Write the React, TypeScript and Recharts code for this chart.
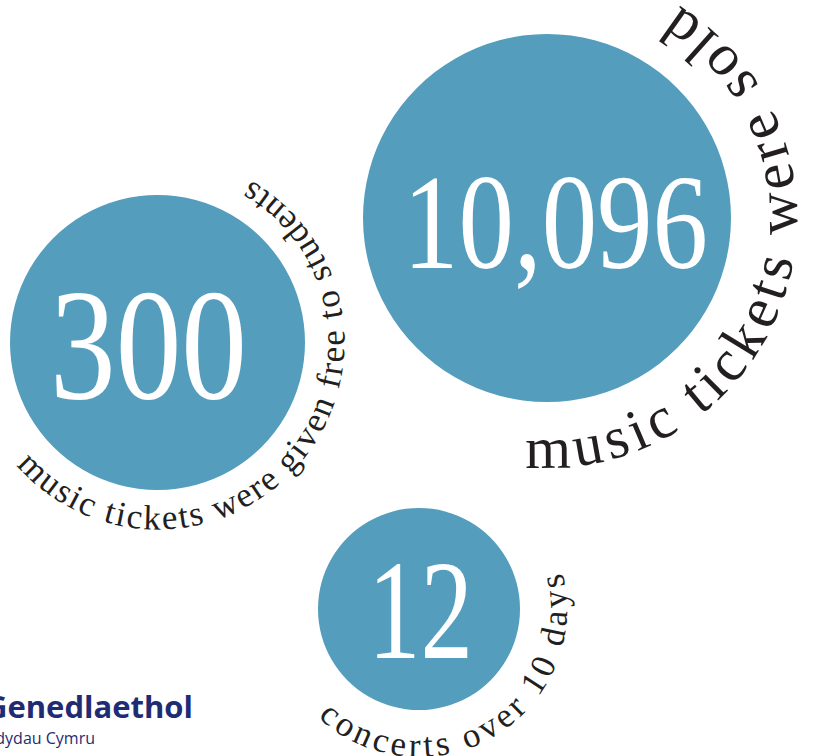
import React from 'react';
import { PieChart, Pie, Cell } from 'recharts';

// ---- data ----
const circleNames = ['free tickets', 'tickets sold', 'concerts'];
const circleValues = [300, 10096, 12];
const numberLabels = ['300', '10,096', '12'];
const captions = [
  'music tickets were given free to students',
  'music tickets were sold',
  'concerts over 10 days',
];
const logoLines = ['Genedlaethol', 'dydau Cymru'];

// ---- layout / style (not data) ----
const layout = [
  { cx: 157.5, cy: 342.5, r: 147.5, numSize: 158, numWidth: 197, numDx: -9, numDy: 55.5, capR: 187, capStart: 139, capEnd: -60, capSize: 35 },
  { cx: 547, cy: 218, r: 184, numSize: 136, numWidth: 305, numDx: 8.5, numDy: 50, capR: 250, capStart: 95, capEnd: -58, capSize: 59 },
  { cx: 419, cy: 609, r: 101, numSize: 142, numWidth: 105, numDx: 1.5, numDy: 49, capR: 148, capStart: 133, capEnd: -14, capSize: 35 },
];

const CIRCLE = '#549dbc';
const INK = '#231f20';
const NAVY = '#1f2c74';
const SERIF = '"Liberation Serif", "DejaVu Serif", serif';
const SANS = '"Open Sans", "Noto Sans", sans-serif';

function arcPath(cx: number, cy: number, R: number, a0: number, a1: number) {
  const p = (a: number) => [cx + R * Math.cos((a * Math.PI) / 180), cy + R * Math.sin((a * Math.PI) / 180)];
  const [x0, y0] = p(a0);
  const [x1, y1] = p(a1);
  const large = a0 - a1 > 180 ? 1 : 0;
  return `M ${x0} ${y0} A ${R} ${R} 0 ${large} 0 ${x1} ${y1}`;
}

function makeLabel(i: number) {
  return (props: any) => {
    const L = layout[i];
    const cx = Number(props.cx);
    const cy = Number(props.cy);
    const id = `cap-path-${i}`;
    const arcLen = (L.capR * (L.capStart - L.capEnd) * Math.PI) / 180;
    return (
      <g key={`lbl-${i}`}>
        <defs>
          <path id={id} d={arcPath(cx, cy, L.capR, L.capStart, L.capEnd)} />
        </defs>
        <text
          x={cx + L.numDx}
          y={cy + L.numDy}
          textAnchor="middle"
          fill="#ffffff"
          fontFamily={SERIF}
          fontSize={L.numSize}
          textLength={L.numWidth}
          lengthAdjust="spacingAndGlyphs"
        >
          {numberLabels[i]}
        </text>
        <text fill={INK} fontFamily={SERIF} fontSize={L.capSize}>
          <textPath href={`#${id}`} textLength={arcLen} lengthAdjust="spacing">
            {captions[i]}
          </textPath>
        </text>
      </g>
    );
  };
}

export default function App() {
  return (
    <div style={{ position: 'absolute', left: 0, top: 0, width: 816, height: 756, background: '#ffffff' }}>
      <PieChart width={816} height={756} margin={{ top: 0, right: 0, bottom: 0, left: 0 }}>
        {circleValues.map((v, i) => (
          <Pie
            key={circleNames[i]}
            data={[{ name: circleNames[i], value: v }]}
            dataKey="value"
            nameKey="name"
            cx={layout[i].cx}
            cy={layout[i].cy}
            innerRadius={0}
            outerRadius={layout[i].r}
            startAngle={90}
            endAngle={450}
            stroke="none"
            isAnimationActive={false}
            labelLine={false}
            label={makeLabel(i)}
          >
            <Cell fill={CIRCLE} />
          </Pie>
        ))}
      </PieChart>
      <svg width={816} height={756} style={{ position: 'absolute', left: 0, top: 0, pointerEvents: 'none' }}>
        <text x={193} y={718} textAnchor="end" fill={NAVY} fontFamily={SANS} fontWeight={700} fontSize={31}>
          {logoLines[0]}
        </text>
        <text x={95} y={744} textAnchor="end" fill={NAVY} fontFamily={SANS} fontSize={16}>
          {logoLines[1]}
        </text>
      </svg>
    </div>
  );
}
